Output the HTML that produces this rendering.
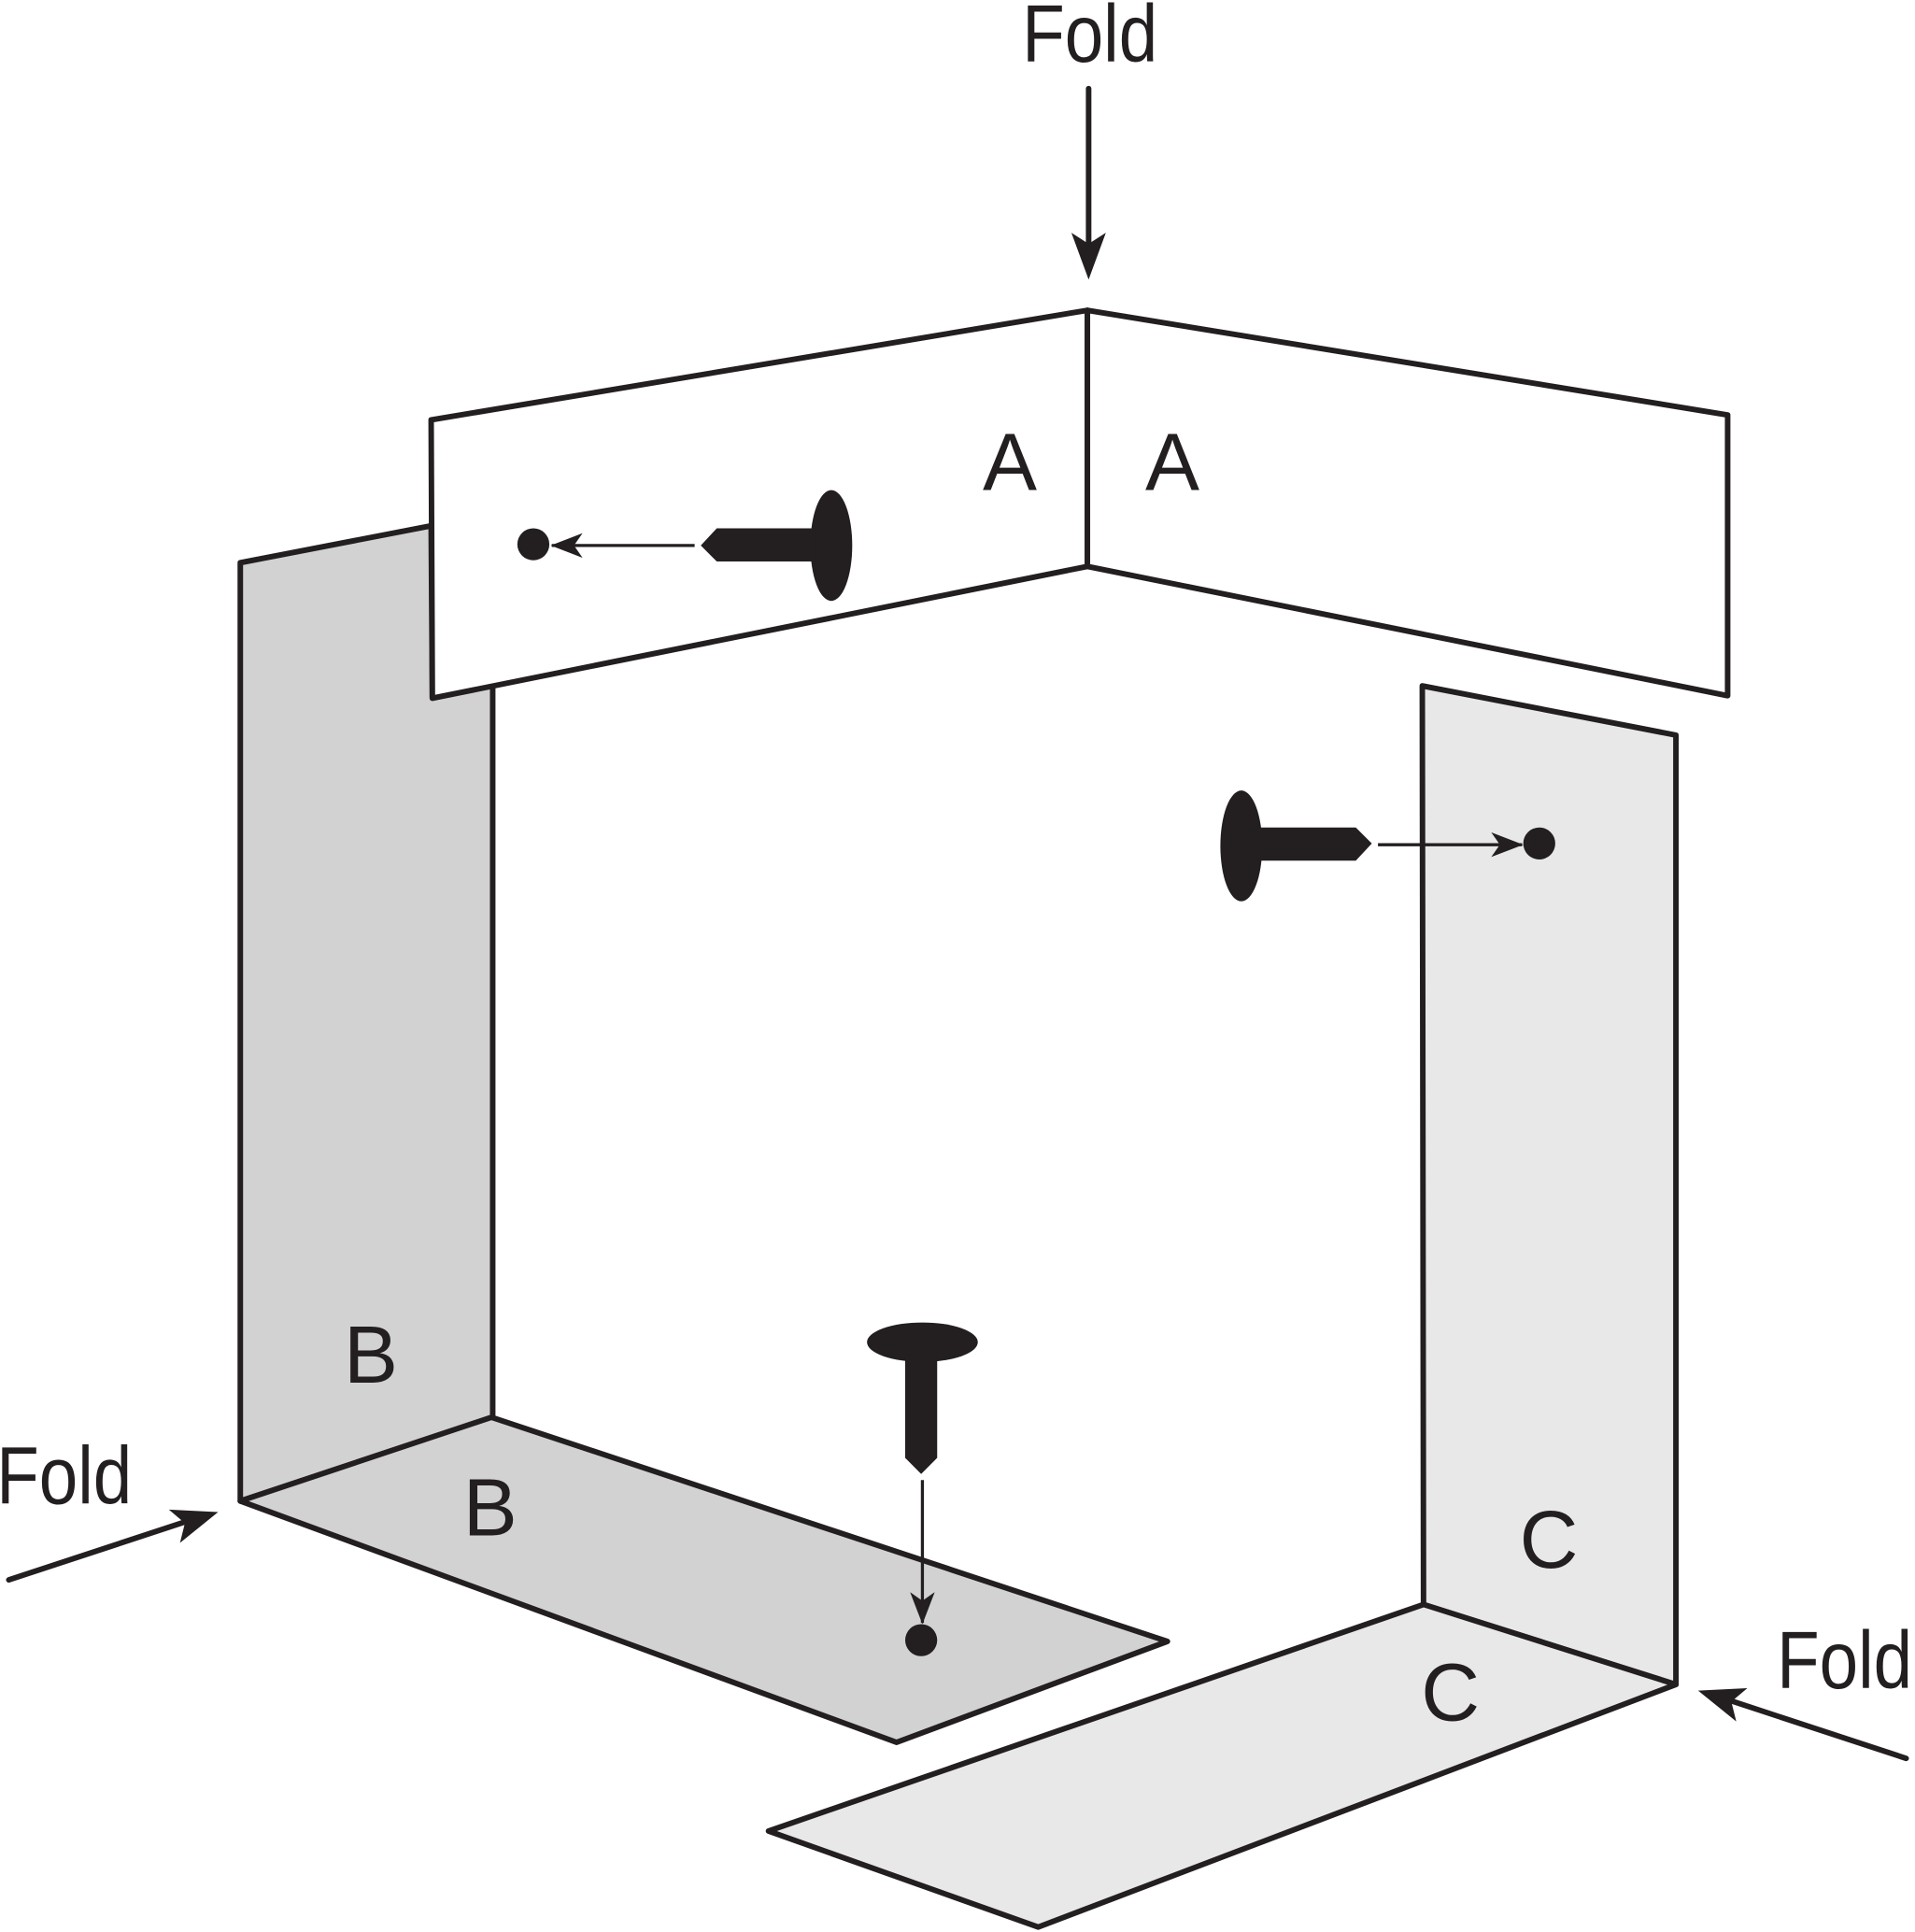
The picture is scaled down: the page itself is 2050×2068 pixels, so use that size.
<!DOCTYPE html>
<html><head><meta charset="utf-8"><style>
html,body{margin:0;padding:0;background:#fff;}
svg{display:block;}
text{font-family:"Liberation Sans",sans-serif;fill:#231f20;}
</style></head><body>
<svg width="2050" height="2068" viewBox="0 0 1555 1569" xmlns="http://www.w3.org/2000/svg">
<defs>
<marker id="ah" viewBox="0 0 38 30" refX="37" refY="15" markerWidth="38" markerHeight="30" markerUnits="userSpaceOnUse" orient="auto">
<path d="M0,0 L38,15 L0,30 L10,15 Z" fill="#231f20"/></marker>
<marker id="ahs" viewBox="0 0 26 20" refX="25" refY="10" markerWidth="26" markerHeight="20" markerUnits="userSpaceOnUse" orient="auto">
<path d="M0,0 L26,10 L0,20 L7,10 Z" fill="#231f20"/></marker>
</defs>
<g stroke="#231f20" stroke-width="4.5" stroke-linejoin="round">
<polygon points="195,457 350,427 351,567 400,557 400,1151 195,1219" fill="#d2d2d2"/>
<polygon points="195,1219 399,1151 948,1333 728,1415" fill="#d2d2d2"/>
<polygon points="1155,557 1361,597 1361,1368 1156,1303" fill="#e8e8e8"/>
<polygon points="1156,1303 1361,1368 843,1565 624,1487" fill="#e8e8e8"/>
<polygon points="350,341 883,252 883,460 351,567" fill="#fff"/>
<polygon points="883,252 1403,337 1403,565 883,460" fill="#fff"/>
<line x1="884" y1="72" x2="884" y2="200" stroke-linecap="round"/>
<line x1="7" y1="1283" x2="150" y2="1236" stroke-linecap="round"/>
<line x1="1548" y1="1428" x2="1405" y2="1381" stroke-linecap="round"/>
</g>
<g fill="#231f20">
<path d="M884,227 L870,189 L884,198 L898,189 Z"/>
<path d="M177,1228 L146,1253 L150,1237 L137,1226 Z"/>
<path d="M1379,1373 L1419,1371 L1406,1382 L1410,1398 Z"/>
</g>
<g fill="#231f20" stroke="#231f20">
<ellipse cx="675" cy="443" rx="17" ry="45" stroke="none"/>
<polygon points="582,429 662,429 662,456 582,456 569,443" stroke="none"/>
<line x1="564" y1="443" x2="448" y2="443" stroke-width="2.5" marker-end="url(#ahs)"/>
<circle cx="433" cy="442" r="13" stroke="none"/>
<ellipse cx="1008" cy="687" rx="17" ry="45" stroke="none"/>
<polygon points="1022,672 1101,672 1114,685 1101,699 1022,699" stroke="none"/>
<line x1="1119" y1="686" x2="1236" y2="686" stroke-width="2.5" marker-end="url(#ahs)"/>
<circle cx="1250" cy="685" r="13" stroke="none"/>
<ellipse cx="749" cy="1090" rx="45" ry="16" stroke="none"/>
<polygon points="735,1100 761,1100 761,1184 748,1197 735,1184" stroke="none"/>
<line x1="749" y1="1202" x2="749" y2="1318" stroke-width="2.5" marker-end="url(#ahs)"/>
<circle cx="748" cy="1332" r="13" stroke="none"/>
</g>
<g font-size="66">
<text x="798" y="398">A</text>
<text x="930" y="398">A</text>
<text x="279" y="1123">B</text>
<text x="376" y="1247">B</text>
<text x="1234" y="1273">C</text>
<text x="1154" y="1397">C</text>
<text x="830" y="50" textLength="110" lengthAdjust="spacingAndGlyphs">Fold</text>
<text x="-3" y="1221" textLength="110" lengthAdjust="spacingAndGlyphs">Fold</text>
<text x="1443" y="1371" textLength="110" lengthAdjust="spacingAndGlyphs">Fold</text>
</g>
</svg>
</body></html>
